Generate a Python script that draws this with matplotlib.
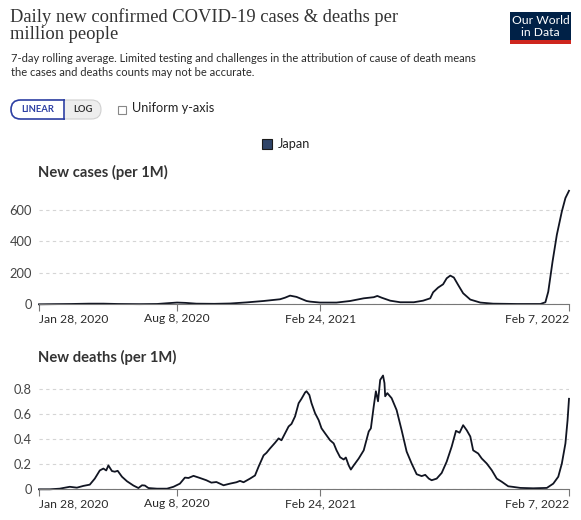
import numpy as np
import pandas as pd
import matplotlib
matplotlib.use('Agg')
import matplotlib.pyplot as plt
from matplotlib.patches import Rectangle, FancyBboxPatch

# data: days after Jan 28, 2020
start = '2020-01-28'
case_days = [0, 20, 45, 70, 90, 110, 140, 165, 180, 193, 205, 220, 245, 267, 290, 314, 337,
             344, 351, 360, 374, 379, 393, 416, 435, 454, 468, 473, 479, 491, 505, 524, 537,
             547, 551, 558, 565, 570, 575, 580, 586, 593, 603, 617, 635, 668, 701, 708, 712,
             718, 724, 731, 736, 741]
case_vals = [0, 1, 2, 4, 4, 2, 1, 2, 7, 11, 9, 4, 3, 5, 12, 21, 32,
             42, 55, 47, 21, 17, 11, 11, 21, 38, 45, 53, 42, 23, 13, 13, 23,
             38, 76, 106, 127, 165, 182, 170, 123, 70, 30, 11, 4, 2, 2, 13, 80,
             271, 441, 589, 674, 720]

death_days = [0, 15, 29, 43, 53, 62, 71, 78, 85, 90, 94, 97, 102, 106, 110, 116, 123, 132,
              139, 144, 148, 153, 165, 179, 188, 197, 204, 209, 216, 225, 234, 241, 248, 258,
              267, 276, 281, 286, 295, 302, 307, 314, 318, 323, 330, 335, 339, 344, 349, 353,
              358, 363, 367, 372, 374, 378, 381, 386, 391, 395, 400, 407, 412, 416, 421, 426,
              429, 433, 436, 440, 447, 454, 461, 464, 468, 471, 474, 477, 481, 483, 484, 487,
              493, 500, 507, 514, 521, 528, 535, 540, 545, 549, 556, 563, 570, 577, 583, 588,
              593, 598, 603, 607, 614, 619, 626, 633, 640, 647, 656, 663, 673, 691, 710, 719,
              726, 731, 736, 739, 741]
death_vals = [0.0, 0.0, 0.005, 0.02, 0.013, 0.027, 0.037, 0.085, 0.15, 0.165, 0.15, 0.19, 0.145,
              0.14, 0.147, 0.10, 0.064, 0.03, 0.01, 0.032, 0.03, 0.01, 0.005, 0.005, 0.02, 0.045,
              0.093, 0.09, 0.107, 0.09, 0.072, 0.053, 0.058, 0.032, 0.045, 0.056, 0.067, 0.056,
              0.085, 0.11, 0.18, 0.27, 0.29, 0.325, 0.37, 0.405, 0.39, 0.445, 0.50, 0.52, 0.58,
              0.685, 0.72, 0.77, 0.78, 0.75, 0.685, 0.605, 0.55, 0.485, 0.445, 0.39, 0.365, 0.31,
              0.255, 0.237, 0.253, 0.19, 0.157, 0.19, 0.245, 0.31, 0.46, 0.485, 0.66, 0.78, 0.70,
              0.87, 0.905, 0.845, 0.74, 0.765, 0.725, 0.63, 0.47, 0.30, 0.205, 0.12, 0.105, 0.115,
              0.085, 0.072, 0.085, 0.13, 0.22, 0.34, 0.465, 0.45, 0.51, 0.47, 0.42, 0.31, 0.285,
              0.245, 0.205, 0.152, 0.085, 0.06, 0.024, 0.019, 0.011, 0.008, 0.011, 0.045, 0.10,
              0.205, 0.365, 0.55, 0.72]

tick_dates = ['2020-01-28', '2020-08-08', '2021-02-24', '2022-02-07']
tick_labels = ['Jan 28, 2020', 'Aug 8, 2020', 'Feb 24, 2021', 'Feb 7, 2022']
case_yticks = [0, 200, 400, 600]
death_yticks = [0, 0.2, 0.4, 0.6, 0.8]
death_ylabels = ['0', '0.2', '0.4', '0.6', '0.8']

t0 = pd.Timestamp(start)
case_x = t0 + pd.to_timedelta(case_days, unit='D')
death_x = t0 + pd.to_timedelta(death_days, unit='D')
ticks_x = pd.to_datetime(tick_dates)

W, H = 581, 520
plt.rcParams['font.family'] = ['Lato', 'DejaVu Sans']
fig = plt.figure(figsize=(W / 100, H / 100), dpi=100)

# overlay in pixel coordinates for the header parts
bg = fig.add_axes([0, 0, 1, 1])
bg.set_xlim(0, W)
bg.set_ylim(H, 0)
bg.axis('off')

bg.text(10, 8, 'Daily new confirmed COVID-19 cases & deaths per\nmillion people',
        family=['Liberation Serif', 'DejaVu Serif'], fontsize=13.3, color='#333333',
        va='top', ha='left', linespacing=1.02)
bg.text(11, 53, '7-day rolling average. Limited testing and challenges in the attribution of cause of death means\n'
        'the cases and deaths counts may not be accurate.',
        fontsize=8, color='#2b2b2b', va='top', ha='left', linespacing=1.35)

# logo
bg.add_patch(Rectangle((510, 12), 61, 29, fc='#002147', ec='none'))
bg.add_patch(Rectangle((510, 40), 61, 4, fc='#ce261e', ec='none'))
bg.text(540.5, 20.5, 'Our World', color='white', fontsize=8.7, ha='center', va='center')
bg.text(540.5, 32.5, 'in Data', color='white', fontsize=8.7, ha='center', va='center')

# LINEAR / LOG toggle
bg.add_patch(FancyBboxPatch((40, 100), 61, 19, boxstyle='round,pad=0,rounding_size=9.5',
                            fc='#eeeeee', ec='#d0d0d0', lw=0.8))
lin = FancyBboxPatch((11, 100), 70, 19, boxstyle='round,pad=0,rounding_size=9.5',
                     fc='white', ec='#2d3fa3', lw=1.2)
bg.add_patch(lin)
clip = Rectangle((5, 95), 59.5, 30, transform=bg.transData)
lin.set_clip_path(clip)
bg.plot([64, 64], [100, 119], color='#2d3fa3', lw=1.2)
bg.text(37.5, 110, 'LINEAR', color='#2d3fa3', fontsize=6.8, fontweight='bold', ha='center', va='center')
bg.text(82.5, 110, 'LOG', color='#333333', fontsize=6.8, fontweight='bold', ha='center', va='center')
bg.add_patch(Rectangle((118, 106), 8, 8, fc='white', ec='#888888', lw=0.8))
bg.text(132, 108.5, 'Uniform y-axis', fontsize=9.2, color='#222222', ha='left', va='center')

# legend
bg.add_patch(Rectangle((262, 139), 10, 10, fc='#2f4468', ec='#1a1a1a', lw=0.8))
bg.text(278, 144, 'Japan', fontsize=9.2, color='#222222', ha='left', va='center')

bg.text(38, 172, 'New cases (per 1M)', fontsize=10.6, fontweight='bold', color='#333333', va='center')
bg.text(38, 357, 'New deaths (per 1M)', fontsize=10.6, fontweight='bold', color='#333333', va='center')


def panel(top_px, bottom_px, xs, ys, ymax, yticks, ylabels):
    ax = fig.add_axes([39 / W, 1 - bottom_px / H, 530 / W, (bottom_px - top_px) / H])
    ax.patch.set_alpha(0)
    ax.plot(xs, ys, color='#111522', lw=1.3, clip_on=False)
    ax.set_xlim(ticks_x[0], ticks_x[-1])
    ax.set_ylim(0, ymax)
    ax.set_yticks(yticks)
    ax.set_yticklabels(ylabels)
    ax.set_xticks(ticks_x)
    ax.set_xticklabels(tick_labels)
    labs = ax.get_xticklabels()
    labs[0].set_horizontalalignment('left')
    labs[-1].set_horizontalalignment('right')
    for s in ['top', 'right', 'left']:
        ax.spines[s].set_visible(False)
    ax.spines['bottom'].set_color('#777777')
    ax.grid(axis='y', color='#d5d5d5', linestyle=(0, (3, 3)), lw=0.8)
    ax.set_axisbelow(True)
    ax.tick_params(axis='y', length=0, pad=5, labelsize=9.3, labelcolor='#444444')
    ax.tick_params(axis='x', length=5, color='#777777', pad=1.5, labelsize=8.7, labelcolor='#2b2b2b')
    return ax


panel(190, 304.3, case_x, case_vals, 725, case_yticks, [str(v) for v in case_yticks])
panel(374.9, 489.3, death_x, death_vals, 0.91, death_yticks, death_ylabels)

fig.savefig('out.png', dpi=100)
